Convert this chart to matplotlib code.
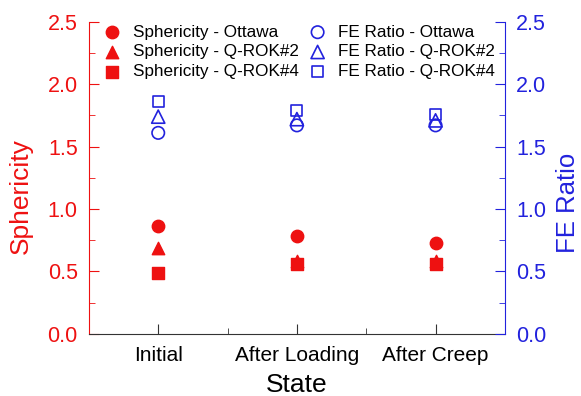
import numpy as np
import matplotlib.pyplot as plt
from matplotlib.ticker import MultipleLocator

plt.rcParams['font.family'] = ['Liberation Sans', 'DejaVu Sans']

states = ['Initial', 'After Loading', 'After Creep']
sph_ottawa = [0.86, 0.78, 0.73]
sph_qrok2 = [0.69, 0.58, 0.58]
sph_qrok4 = [0.49, 0.56, 0.56]
fe_ottawa = [1.61, 1.67, 1.67]
fe_qrok2 = [1.74, 1.72, 1.71]
fe_qrok4 = [1.86, 1.79, 1.76]

red = '#ee1111'
blue = '#2222dd'
x = np.arange(len(states))

fig, ax = plt.subplots(figsize=(5.81, 3.96), dpi=100)
fig.subplots_adjust(left=0.153, right=0.869, top=0.945, bottom=0.157)
ax2 = ax.twinx()

h1 = ax.scatter(x, sph_ottawa, marker='o', s=80, color=red, label='Sphericity - Ottawa')
h2 = ax.scatter(x, sph_qrok2, marker='^', s=80, color=red, label='Sphericity - Q-ROK#2')
h3 = ax.scatter(x, sph_qrok4, marker='s', s=65, color=red, label='Sphericity - Q-ROK#4')
h4 = ax2.scatter(x, fe_ottawa, marker='o', s=80, facecolors='none', edgecolors=blue, linewidths=1.2, label='FE Ratio - Ottawa')
h5 = ax2.scatter(x, fe_qrok2, marker='^', s=90, facecolors='none', edgecolors=blue, linewidths=1.2, label='FE Ratio - Q-ROK#2')
h6 = ax2.scatter(x, fe_qrok4, marker='s', s=65, facecolors='none', edgecolors=blue, linewidths=1.2, label='FE Ratio - Q-ROK#4')

for a in (ax, ax2):
    a.set_ylim(0, 2.5)
    a.set_xlim(-0.5, 2.5)
    a.yaxis.set_major_locator(MultipleLocator(0.5))
    a.yaxis.set_minor_locator(MultipleLocator(0.25))
    a.spines['top'].set_visible(False)

ax.set_xticks(x)
ax.set_xticklabels(states, fontsize=15)
ax.xaxis.set_minor_locator(MultipleLocator(0.5))
ax.tick_params(axis='x', which='both', direction='in', color='#333333', pad=9)
ax.tick_params(axis='x', which='major', length=7)
ax.tick_params(axis='x', which='minor', length=4)

ax.spines['left'].set_color(red)
ax.spines['right'].set_visible(False)
ax.spines['bottom'].set_color('#333333')
ax.tick_params(axis='y', which='both', direction='in', colors=red, labelsize=15.5, pad=8)
ax.tick_params(axis='y', which='major', length=7)
ax.tick_params(axis='y', which='minor', length=4)

ax2.spines['right'].set_color(blue)
ax2.spines['left'].set_visible(False)
ax2.spines['bottom'].set_visible(False)
ax2.tick_params(axis='y', which='both', direction='in', colors=blue, labelsize=15.5, pad=8)
ax2.tick_params(axis='y', which='major', length=7)
ax2.tick_params(axis='y', which='minor', length=4)

ax.set_ylabel('Sphericity', color=red, fontsize=19)
ax2.set_ylabel('FE Ratio', color=blue, fontsize=18.5)
ax.set_xlabel('State', fontsize=19)
ax.yaxis.set_label_coords(-0.135, 0.44)
ax2.yaxis.set_label_coords(1.122, 0.42)
ax.xaxis.set_label_coords(0.5, -0.125)

ax.legend(handles=[h1, h2, h3, h4, h5, h6], ncol=2, loc='upper left',
          bbox_to_anchor=(-0.005, 1.04), frameon=False, fontsize=12.3,
          handletextpad=0.6, columnspacing=0.5, labelspacing=0.28,
          handlelength=1.2)

plt.savefig('out.png', dpi=100)
